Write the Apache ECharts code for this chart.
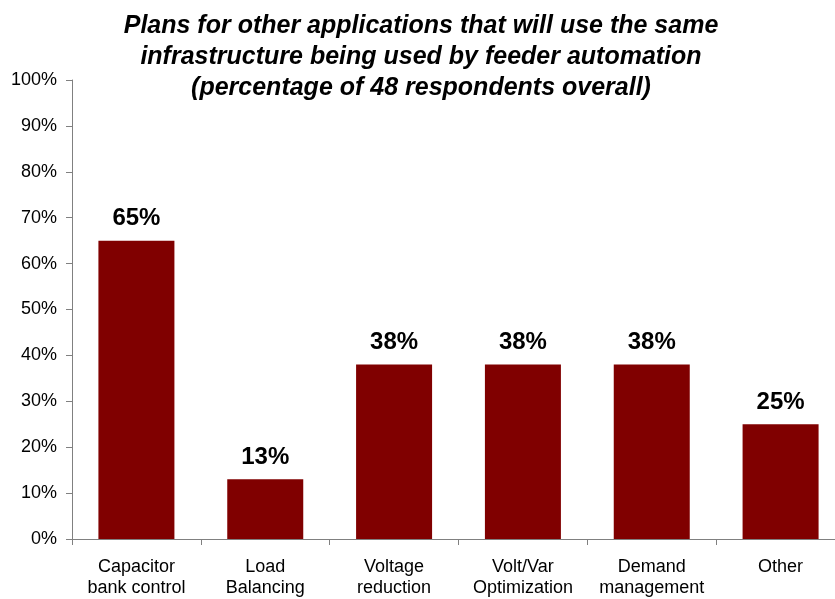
<!DOCTYPE html>
<html>
<head>
<meta charset="utf-8">
<script src="https://cdn.jsdelivr.net/npm/echarts@6/dist/echarts.min.js"></script>
<style>html,body{margin:0;padding:0;background:#fff;overflow:hidden}#c{width:846px;height:599px}</style>
</head>
<body>
<div id="c"></div>
<script>
var categories = ["Capacitor\nbank control", "Load\nBalancing", "Voltage\nreduction", "Volt/Var\nOptimization", "Demand\nmanagement", "Other"];
var values = [65, 13, 38, 38, 38, 25];
var yTicks = {min: 0, max: 100, interval: 10};
var titleText = "Plans for other applications that will use the same\ninfrastructure being used by feeder automation\n(percentage of 48 respondents overall)";

var chart = echarts.init(document.getElementById('c'), null, {renderer: 'canvas'});
chart.setOption({
  animation: false,
  backgroundColor: '#ffffff',
  title: {
    text: titleText,
    left: 416,
    textAlign: 'center',
    top: 6,
    textStyle: {
      fontFamily: 'Liberation Sans, Arial, sans-serif',
      fontSize: 25,
      fontWeight: 'bold',
      fontStyle: 'italic',
      color: '#000',
      lineHeight: 31
    }
  },
  grid: {left: 72, top: 80, right: 1, height: 460, containLabel: false},
  xAxis: {
    type: 'category',
    data: categories,
    axisLine: {lineStyle: {color: '#808080', width: 1}},
    axisTick: {show: true, inside: false, length: 6, alignWithLabel: false, lineStyle: {color: '#808080'}},
    axisLabel: {
      interval: 0,
      margin: 18,
      color: '#000',
      fontFamily: 'Liberation Sans, Arial, sans-serif',
      fontSize: 18,
      lineHeight: 21
    }
  },
  yAxis: {
    type: 'value',
    min: yTicks.min,
    max: yTicks.max,
    interval: yTicks.interval,
    splitLine: {show: false},
    axisLine: {show: true, lineStyle: {color: '#808080', width: 1}},
    axisTick: {show: true, length: 6, lineStyle: {color: '#808080'}},
    axisLabel: {
      formatter: '{value}%',
      margin: 15,
      color: '#000',
      fontFamily: 'Liberation Sans, Arial, sans-serif',
      fontSize: 18
    }
  },
  series: [{
    type: 'bar',
    data: values,
    barWidth: 76,
    itemStyle: {color: '#800000'},
    label: {
      show: true,
      position: 'top',
      distance: 10,
      formatter: '{c}%',
      color: '#000',
      fontFamily: 'Liberation Sans, Arial, sans-serif',
      fontSize: 24,
      fontWeight: 'bold'
    }
  }]
});
</script>
</body>
</html>
